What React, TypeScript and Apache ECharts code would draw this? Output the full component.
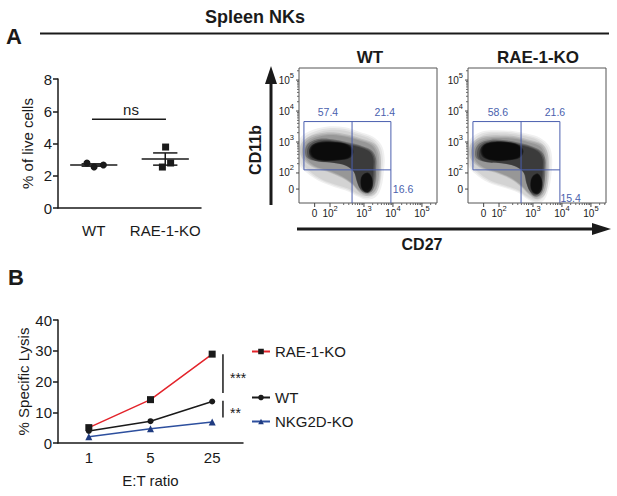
import React, { useEffect, useRef } from "react";
import * as echarts from "echarts";

const FONT = "'Liberation Sans', Arial, Helvetica, sans-serif";
const INK = "#1a1a1a";
const GATE = "#4a5eae";

// ---------- Panel A (left): NK cells, % of live cells ----------
const groupsA = ["WT", "RAE-1-KO"];
const groupCenters = [1, 3];
const wtPoints: number[][] = [[0.81, 2.79], [1.01, 2.54], [1.27, 2.67]];
const raePoints: number[][] = [[3.01, 3.78], [2.92, 2.54], [3.15, 2.79]];
const nsBracket = [[0.95, 3.02, 5.5]];
const yTicksA = [0, 8, 2];

// ---------- Panel A (right): flow plots (axis units = decades) ----------
const FLOW_X = [0.76, 5.52];
const FLOW_Y = [1.03, 5.39];
const flowXTickPos = [1.3, 1.83, 3, 4, 5];
const flowXTickExp = ["", "2", "3", "4", "5"]; // "" -> label "0"
const flowYTickPos = [1.48, 2, 3, 4, 5];
const flowYTickExp = ["", "2", "3", "4", "5"];
const gateX = [0.93, 2.59, 3.93];
const gateY = [3.66, 2.1];
const quadWT = ["57.4", "21.4", "16.6"];
const quadRAE = ["58.6", "21.6", "15.4"];
const quadPosWT = [[1.76, 3.97], [3.72, 3.97], [4.35, 1.48]];
const quadPosRAE = [[1.79, 3.97], [3.76, 3.97], [4.3, 1.19]];

const blobWT = [
  [[0.81, 2.97], [0.98, 3.19], [1.32, 3.35], [1.84, 3.45], [2.35, 3.42], [2.79, 3.29], [3.27, 3.13], [3.55, 2.87], [3.65, 2.48], [3.62, 2.03], [3.55, 1.61], [3.38, 1.29], [3.07, 1.19], [2.76, 1.29], [2.45, 1.45], [2.01, 1.58], [1.49, 1.77], [1.08, 2.03], [0.81, 2.32]],
  [[0.88, 2.85], [1.07, 3.08], [1.42, 3.22], [1.92, 3.27], [2.42, 3.2], [2.87, 3.08], [3.3, 2.93], [3.48, 2.68], [3.53, 2.3], [3.5, 1.8], [3.38, 1.42], [3.12, 1.3], [2.84, 1.4], [2.6, 1.64], [2.25, 1.86], [1.74, 2.06], [1.24, 2.22], [0.92, 2.5]],
  [[1.04, 2.74], [1.18, 2.95], [1.52, 3.07], [2.03, 3.04], [2.47, 2.95], [2.93, 2.84], [3.24, 2.7], [3.37, 2.46], [3.37, 2.14], [3.35, 1.77], [3.25, 1.47], [3.07, 1.38], [2.88, 1.47], [2.76, 1.72], [2.65, 2.04], [2.37, 2.24], [1.92, 2.33], [1.44, 2.37], [1.1, 2.48]],
  [[1.14, 2.7], [1.25, 2.9], [1.6, 2.99], [2.1, 2.98], [2.45, 2.9], [2.6, 2.72], [2.5, 2.5], [2.1, 2.42], [1.6, 2.4], [1.25, 2.5]],
  [[2.95, 1.92], [3.14, 2.0], [3.28, 1.82], [3.28, 1.52], [3.13, 1.37], [2.95, 1.47], [2.89, 1.71]],
];
const blobRAE = [
  [[0.81, 2.9], [0.98, 3.13], [1.32, 3.3], [1.84, 3.33], [2.35, 3.3], [2.79, 3.22], [3.2, 3.1], [3.5, 2.85], [3.6, 2.48], [3.58, 2.0], [3.5, 1.55], [3.35, 1.2], [3.1, 1.08], [2.8, 1.2], [2.5, 1.4], [2.05, 1.55], [1.5, 1.72], [1.08, 1.98], [0.81, 2.3]],
  [[0.88, 2.8], [1.07, 3.03], [1.42, 3.15], [1.92, 3.17], [2.42, 3.14], [2.87, 3.03], [3.28, 2.9], [3.45, 2.63], [3.49, 2.25], [3.47, 1.75], [3.37, 1.35], [3.12, 1.2], [2.86, 1.33], [2.6, 1.57], [2.24, 1.82], [1.74, 2.02], [1.24, 2.17], [0.92, 2.45]],
  [[1.08, 2.72], [1.23, 2.93], [1.57, 3.03], [2.07, 3.02], [2.52, 2.94], [2.95, 2.83], [3.25, 2.68], [3.38, 2.44], [3.38, 2.1], [3.35, 1.7], [3.26, 1.4], [3.08, 1.28], [2.9, 1.4], [2.78, 1.66], [2.68, 2.01], [2.4, 2.21], [1.94, 2.31], [1.47, 2.34], [1.12, 2.46]],
  [[1.22, 2.72], [1.34, 2.92], [1.7, 3.0], [2.2, 2.98], [2.52, 2.88], [2.64, 2.7], [2.52, 2.5], [2.15, 2.42], [1.7, 2.4], [1.33, 2.5]],
  [[2.99, 1.88], [3.17, 1.97], [3.3, 1.78], [3.3, 1.47], [3.15, 1.32], [2.97, 1.42], [2.92, 1.66]],
];
const blobAlpha = [0.17, 0.28, 0.6, 0.8, 0.75];
const blobSteps = [1.05, 1.0, 0.95];

// ---------- Panel B: cytotoxicity ----------
const ratios = ["1", "5", "25"];
const lysisRAE = [5.0, 14.1, 28.9];
const lysisWT = [3.9, 7.1, 13.5];
const lysisNKG2D = [2.0, 4.6, 6.8];
const sigBars = [[2.675, 28.9, 16.3], [2.675, 13.7, 8.3]];
const sigLabels = ["***", "**"];

function meanSem(pts: number[][]) {
  const v = pts.map((p) => p[1]);
  const m = v.reduce((a, b) => a + b, 0) / v.length;
  const sd = Math.sqrt(v.reduce((a, b) => a + (b - m) * (b - m), 0) / (v.length - 1));
  return [m, sd / Math.sqrt(v.length)];
}

function minorTicks(lo: number, hi: number) {
  const out: number[] = [];
  for (let d = 2; d <= 5; d++) {
    for (let k = 2; k <= 9; k++) {
      const v = d + Math.log10(k);
      if (v > lo && v < hi) out.push(v);
    }
  }
  return out;
}

function textStyle(text: string, size: number, fill: string, align: string, valign: string, weight = "normal") {
  return {
    text,
    fill,
    font: `${weight} ${size}px ${FONT}`,
    fontSize: size,
    fontFamily: FONT,
    fontWeight: weight,
    textAlign: align,
    textVerticalAlign: valign,
    align,
    verticalAlign: valign,
  };
}

function powerLabel(exp: string, align: string, valign: string) {
  const base = textStyle(exp ? `{b|10}{s|${exp}}` : "{b|0}", 10, INK, align, valign);
  return {
    ...base,
    rich: {
      b: { fontSize: 10, fontFamily: FONT, fill: INK, lineHeight: 14, verticalAlign: "bottom" },
      s: { fontSize: 7.5, fontFamily: FONT, fill: INK, lineHeight: 14, verticalAlign: "top" },
    },
  };
}

function flowSeries(gi: number, blob: number[][][], quad: string[], quadPos: number[][]) {
  const axes = { xAxisIndex: gi + 1, yAxisIndex: gi };
  return [
    {
      type: "custom",
      ...axes,
      clip: true,
      silent: true,
      data: blob.map((layer, i) => [layer[0][0], layer[0][1], i]),
      renderItem: (params: any, api: any) => {
        const i = params.dataIndex;
        const pts: number[][] = blob[i].map((p) => api.coord(p));
        const cx = pts.reduce((a, p) => a + p[0], 0) / pts.length;
        const cy = pts.reduce((a, p) => a + p[1], 0) / pts.length;
        const sub = 1 - Math.pow(1 - blobAlpha[i], 1 / blobSteps.length);
        return {
          type: "group",
          children: blobSteps.map((k) => ({
            type: "polygon",
            shape: { points: pts.map((p) => [cx + (p[0] - cx) * k, cy + (p[1] - cy) * k]), smooth: 0.35 },
            style: { fill: `rgba(0,0,0,${sub})` },
          })),
        };
      },
    },
    {
      type: "custom",
      ...axes,
      silent: true,
      data: [[gateX[0], gateY[0]]],
      renderItem: (_p: any, api: any) => {
        const c = (x: number, y: number) => api.coord([x, y]);
        const seg = (a: number[], b: number[]) => ({
          type: "line",
          shape: { x1: a[0], y1: a[1], x2: b[0], y2: b[1] },
          style: { stroke: GATE, lineWidth: 1 },
        });
        return {
          type: "group",
          children: [
            seg(c(gateX[0], gateY[0]), c(gateX[2], gateY[0])),
            seg(c(gateX[0], gateY[1]), c(gateX[2], gateY[1])),
            seg(c(gateX[0], gateY[0]), c(gateX[0], gateY[1])),
            seg(c(gateX[1], gateY[0]), c(gateX[1], FLOW_Y[0])),
            seg(c(gateX[2], gateY[0]), c(gateX[2], FLOW_Y[0])),
          ],
        };
      },
    },
    {
      type: "custom",
      ...axes,
      silent: true,
      data: quadPos.map((p, i) => [p[0], p[1], i]),
      renderItem: (params: any, api: any) => {
        const p = api.coord([api.value(0), api.value(1)]);
        return {
          type: "text",
          x: p[0],
          y: p[1],
          style: textStyle(quad[params.dataIndex], 10.5, "#4a5fae", "center", "middle"),
        };
      },
    },
    {
      type: "custom",
      ...axes,
      silent: true,
      data: flowXTickPos.map((v, i) => [v, FLOW_Y[0], i]),
      renderItem: (params: any, api: any) => {
        const p = api.coord([api.value(0), FLOW_Y[0]]);
        return {
          type: "group",
          children: [
            { type: "line", shape: { x1: p[0], y1: p[1], x2: p[0], y2: p[1] + 4 }, style: { stroke: "#444", lineWidth: 1 } },
            { type: "text", x: p[0], y: p[1] + 1, style: powerLabel(flowXTickExp[params.dataIndex], "center", "top") },
          ],
        };
      },
    },
    {
      type: "custom",
      ...axes,
      silent: true,
      data: minorTicks(FLOW_X[0], FLOW_X[1]).map((v) => [v, FLOW_Y[0]]),
      renderItem: (_params: any, api: any) => {
        const p = api.coord([api.value(0), FLOW_Y[0]]);
        return { type: "line", shape: { x1: p[0], y1: p[1], x2: p[0], y2: p[1] + 2 }, style: { stroke: "#666", lineWidth: 1 } };
      },
    },
    {
      type: "custom",
      ...axes,
      silent: true,
      data: flowYTickPos.map((v, i) => [FLOW_X[0], v, i]),
      renderItem: (params: any, api: any) => {
        const p = api.coord([FLOW_X[0], api.value(1)]);
        return {
          type: "group",
          children: [
            { type: "line", shape: { x1: p[0] - 3, y1: p[1], x2: p[0], y2: p[1] }, style: { stroke: "#444", lineWidth: 1 } },
            { type: "text", x: p[0] - 5, y: p[1] - 2, style: powerLabel(flowYTickExp[params.dataIndex], "right", "middle") },
          ],
        };
      },
    },
    {
      type: "custom",
      ...axes,
      silent: true,
      data: minorTicks(FLOW_Y[0], FLOW_Y[1]).map((v) => [FLOW_X[0], v]),
      renderItem: (_params: any, api: any) => {
        const p = api.coord([FLOW_X[0], api.value(1)]);
        return { type: "line", shape: { x1: p[0] - 2, y1: p[1], x2: p[0], y2: p[1] }, style: { stroke: "#666", lineWidth: 1 } };
      },
    },
  ];
}

function buildOption() {
  const axisLineStyle = { lineStyle: { color: INK, width: 1.5 } };
  const axisTickStyle = { lineStyle: { color: INK, width: 1.5 }, length: 5 };
  const labelStyle = { color: INK, fontSize: 15, fontFamily: FONT };
  const stats = [meanSem(wtPoints), meanSem(raePoints)];

  return {
    animation: false,
    backgroundColor: "#ffffff",
    textStyle: { fontFamily: FONT },
    grid: [
      { left: 58, top: 79, width: 143, height: 129 },
      { left: 299, top: 68, width: 138, height: 135, show: true, borderColor: "#555", borderWidth: 1, backgroundColor: "transparent" },
      { left: 468, top: 68, width: 138, height: 135, show: true, borderColor: "#555", borderWidth: 1, backgroundColor: "transparent" },
      { left: 58, top: 320, width: 185, height: 123 },
    ],
    xAxis: [
      {
        type: "category", gridIndex: 0, data: groupsA, boundaryGap: true,
        axisLine: axisLineStyle, axisTick: { ...axisTickStyle, alignWithLabel: true },
        axisLabel: { ...labelStyle, margin: 15, interval: 0, hideOverlap: false },
      },
      { type: "value", gridIndex: 0, min: 0, max: 4, show: false },
      { type: "value", gridIndex: 1, min: FLOW_X[0], max: FLOW_X[1], show: false },
      { type: "value", gridIndex: 2, min: FLOW_X[0], max: FLOW_X[1], show: false },
      {
        type: "category", gridIndex: 3, data: ratios, boundaryGap: true,
        axisLine: axisLineStyle, axisTick: { ...axisTickStyle, alignWithLabel: true },
        axisLabel: { ...labelStyle, margin: 7, interval: 0 },
        name: "E:T ratio", nameLocation: "middle", nameGap: 30,
        nameTextStyle: { color: INK, fontSize: 15, fontFamily: FONT },
      },
      { type: "value", gridIndex: 3, min: 0, max: 3, show: false },
    ],
    yAxis: [
      {
        type: "value", gridIndex: 0, min: yTicksA[0], max: yTicksA[1], interval: yTicksA[2],
        axisLine: { show: true, ...axisLineStyle }, axisTick: { show: true, ...axisTickStyle },
        splitLine: { show: false }, axisLabel: { ...labelStyle, margin: 6 },
        name: "% of live cells", nameLocation: "middle", nameGap: 23,
        nameTextStyle: { color: INK, fontSize: 15, fontFamily: FONT },
      },
      { type: "value", gridIndex: 1, min: FLOW_Y[0], max: FLOW_Y[1], show: false },
      { type: "value", gridIndex: 2, min: FLOW_Y[0], max: FLOW_Y[1], show: false },
      {
        type: "value", gridIndex: 3, min: 0, max: 40, interval: 10,
        axisLine: { show: true, ...axisLineStyle }, axisTick: { show: true, ...axisTickStyle },
        splitLine: { show: false }, axisLabel: { ...labelStyle, margin: 6 },
        name: "% Specific Lysis", nameLocation: "middle", nameGap: 25,
        nameTextStyle: { color: INK, fontSize: 15, fontFamily: FONT },
      },
    ],
    legend: [
      { name: "RAE-1-KO", top: 344 },
      { name: "WT", top: 390 },
      { name: "NKG2D-KO", top: 414 },
    ].map((l) => ({
      data: [l.name], left: 251, top: l.top, padding: 0, itemWidth: 18, itemHeight: 7,
      selectedMode: false, textStyle: { color: INK, fontSize: 15, fontFamily: FONT },
    })),
    graphic: [
      { type: "text", x: 255, y: 17, style: textStyle("Spleen NKs", 18, INK, "center", "middle", "bold") },
      { type: "text", x: 14, y: 36, style: textStyle("A", 22, INK, "center", "middle", "bold") },
      { type: "text", x: 16, y: 277, style: textStyle("B", 22, INK, "center", "middle", "bold") },
      { type: "line", shape: { x1: 40, y1: 33.5, x2: 609, y2: 33.5 }, style: { stroke: INK, lineWidth: 2 } },
      { type: "text", x: 370, y: 57, style: textStyle("WT", 17, INK, "center", "middle", "bold") },
      { type: "text", x: 538, y: 57, style: textStyle("RAE-1-KO", 17, INK, "center", "middle", "bold") },
      { type: "text", x: 255, y: 150, rotation: Math.PI / 2, style: textStyle("CD11b", 16, INK, "center", "middle", "bold") },
      { type: "text", x: 422, y: 244, style: textStyle("CD27", 16, INK, "center", "middle", "bold") },
      { type: "line", shape: { x1: 271, y1: 205, x2: 271, y2: 80 }, style: { stroke: INK, lineWidth: 3 } },
      { type: "polygon", shape: { points: [[271, 66], [265, 84], [277, 84]] }, style: { fill: INK } },
      { type: "line", shape: { x1: 297, y1: 229, x2: 595, y2: 229 }, style: { stroke: INK, lineWidth: 3 } },
      { type: "polygon", shape: { points: [[611, 229], [592, 223], [592, 235]] }, style: { fill: INK } },
    ],
    series: [
      // Panel A dot plot
      {
        type: "custom", xAxisIndex: 1, yAxisIndex: 0, silent: true,
        data: groupCenters.map((c, i) => [c, stats[i][0], stats[i][1]]),
        renderItem: (_params: any, api: any) => {
          const cx = api.value(0), m = api.value(1), s = api.value(2);
          const L = (x1: number, y1: number, x2: number, y2: number) => {
            const a = api.coord([x1, y1]);
            const b = api.coord([x2, y2]);
            return { type: "line", shape: { x1: a[0], y1: a[1], x2: b[0], y2: b[1] }, style: { stroke: INK, lineWidth: 1.5 } };
          };
          return {
            type: "group",
            children: [
              L(cx - 0.66, m, cx + 0.66, m),
              L(cx, m - s, cx, m + s),
              L(cx - 0.34, m + s, cx + 0.34, m + s),
              L(cx - 0.34, m - s, cx + 0.34, m - s),
            ],
          };
        },
      },
      { type: "scatter", xAxisIndex: 1, yAxisIndex: 0, data: wtPoints, symbol: "circle", symbolSize: 7, itemStyle: { color: INK, opacity: 1 }, silent: true },
      { type: "scatter", xAxisIndex: 1, yAxisIndex: 0, data: raePoints, symbol: "rect", symbolSize: 7, itemStyle: { color: INK, opacity: 1 }, silent: true },
      {
        type: "custom", xAxisIndex: 1, yAxisIndex: 0, silent: true,
        data: nsBracket, encode: { x: [0, 1], y: 2 },
        renderItem: (_params: any, api: any) => {
          const a = api.coord([api.value(0), api.value(2)]);
          const b = api.coord([api.value(1), api.value(2)]);
          return {
            type: "group",
            children: [
              { type: "line", shape: { x1: a[0], y1: a[1], x2: b[0], y2: b[1] }, style: { stroke: INK, lineWidth: 1.5 } },
              { type: "text", x: (a[0] + b[0]) / 2 + 2, y: a[1] - 2, style: textStyle("ns", 15, INK, "center", "bottom") },
            ],
          };
        },
      },
      // Flow plots
      ...flowSeries(1, blobWT, quadWT, quadPosWT),
      ...flowSeries(2, blobRAE, quadRAE, quadPosRAE),
      // Panel B
      {
        name: "RAE-1-KO", type: "line", xAxisIndex: 4, yAxisIndex: 3, data: lysisRAE,
        symbol: "rect", symbolSize: 7, lineStyle: { color: "#e3242b", width: 1.5 },
        itemStyle: { color: "#1a1a1a" }, silent: true,
      },
      {
        name: "WT", type: "line", xAxisIndex: 4, yAxisIndex: 3, data: lysisWT,
        symbol: "circle", symbolSize: 6, lineStyle: { color: INK, width: 1.5 },
        itemStyle: { color: INK }, silent: true,
      },
      {
        name: "NKG2D-KO", type: "line", xAxisIndex: 4, yAxisIndex: 3, data: lysisNKG2D,
        symbol: "triangle", symbolSize: 7, lineStyle: { color: "#2d4f9e", width: 1.5 },
        itemStyle: { color: "#1f3b80" }, silent: true,
      },
      {
        type: "custom", xAxisIndex: 5, yAxisIndex: 3, silent: true,
        data: sigBars, encode: { x: 0, y: [1, 2] },
        renderItem: (params: any, api: any) => {
          const a = api.coord([api.value(0), api.value(1)]);
          const b = api.coord([api.value(0), api.value(2)]);
          return {
            type: "group",
            children: [
              { type: "line", shape: { x1: a[0], y1: a[1], x2: b[0], y2: b[1] }, style: { stroke: INK, lineWidth: 1.5 } },
              { type: "text", x: a[0] + 7, y: (a[1] + b[1]) / 2 + 4, style: textStyle(sigLabels[params.dataIndex], 14, INK, "left", "middle") },
            ],
          };
        },
      },
    ],
  };
}

export default function App() {
  const ref = useRef<HTMLDivElement>(null);
  useEffect(() => {
    if (!ref.current) return;
    const chart = echarts.init(ref.current, undefined, { renderer: "svg" });
    chart.setOption(buildOption() as any);
    return () => chart.dispose();
  }, []);
  return (
    <div
      ref={ref}
      style={{ position: "absolute", left: 0, top: 0, width: 617, height: 496, background: "#fff" }}
    />
  );
}
